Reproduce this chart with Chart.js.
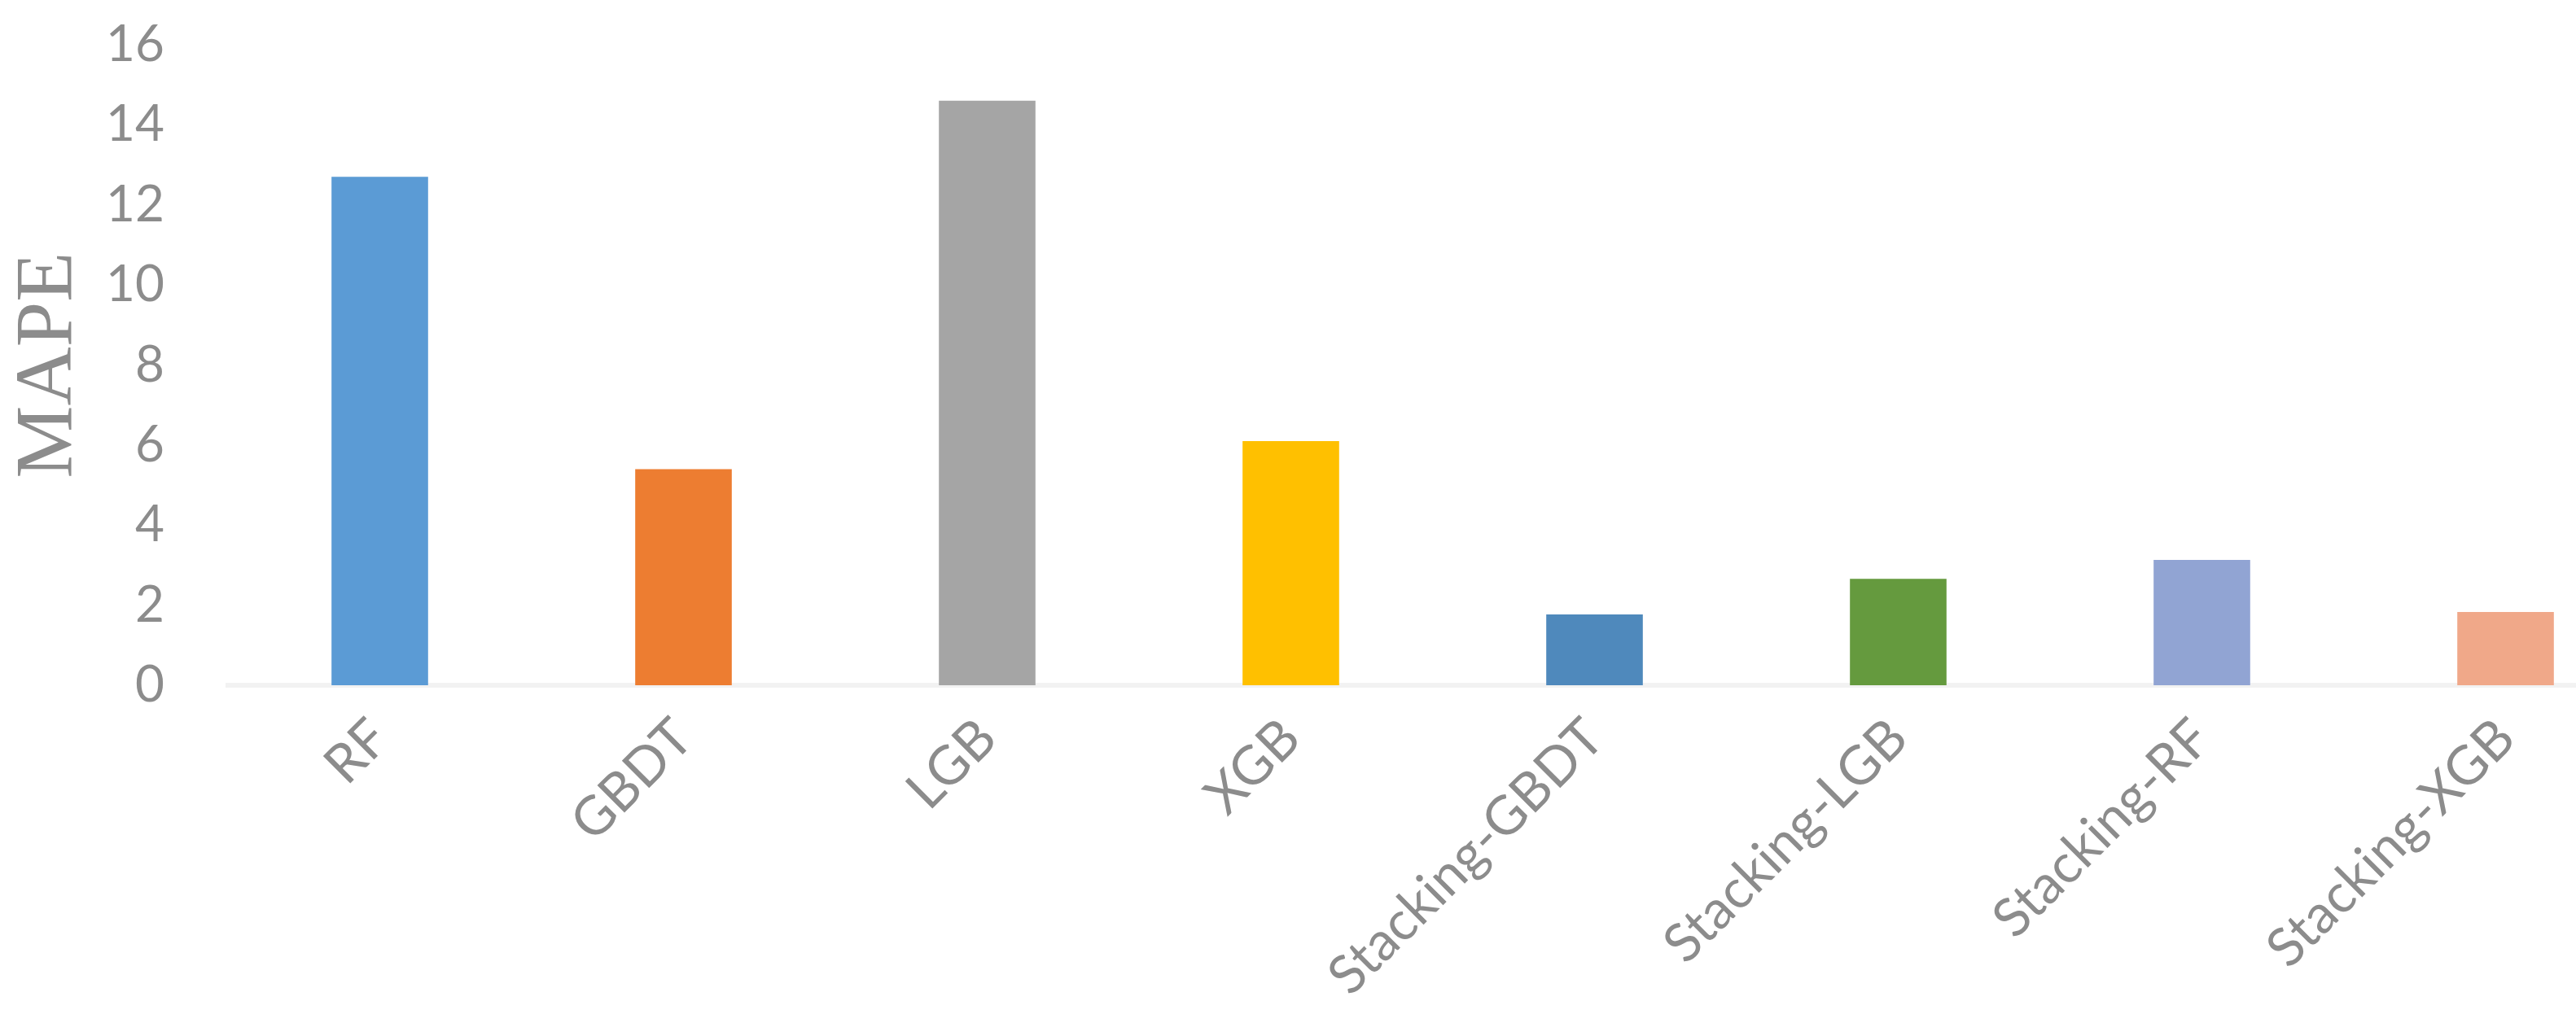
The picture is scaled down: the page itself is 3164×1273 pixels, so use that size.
<!DOCTYPE html>
<html>
<head>
<meta charset="utf-8">
<script src="https://cdn.jsdelivr.net/npm/chart.js@4.4.1/dist/chart.umd.min.js"></script>
<style>
  html, body { margin: 0; padding: 0; background: #fff; overflow: hidden; }
  #wrap { position: absolute; left: 0; top: 0; width: 3264px; height: 1273px; }
</style>
</head>
<body>
<div id="wrap"><canvas id="chart"></canvas></div>
<script>
const models = ['RF', 'GBDT', 'LGB', 'XGB', 'Stacking-GBDT', 'Stacking-LGB', 'Stacking-RF', 'Stacking-XGB'];
const mape = [12.7, 5.4, 14.6, 6.1, 1.77, 2.66, 3.13, 1.83];
const barColors = ['#5B9BD5', '#ED7D31', '#A5A5A5', '#FFC000', '#4F89BC', '#659A3E', '#91A4D3', '#F0A889'];
const yTicks = [0, 2, 4, 6, 8, 10, 12, 14, 16];

const tickColor = '#8C8C8C';

new Chart(document.getElementById('chart').getContext('2d'), {
    type: 'bar',
    data: {
        labels: models,
        datasets: [{
            label: 'MAPE',
            data: mape,
            backgroundColor: barColors,
            borderWidth: 0,
            categoryPercentage: 1,
            barPercentage: 0.318
        }]
    },
    options: {
        responsive: true,
        maintainAspectRatio: false,
        animation: false,
        layout: { padding: { top: 55, left: 0, right: 0, bottom: 0 } },
        plugins: {
            legend: { display: false },
            tooltip: { enabled: false }
        },
        scales: {
            x: {
                grid: { display: false, drawTicks: false },
                border: { display: true, color: '#F2F2F2', width: 6 },
                ticks: {
                    color: tickColor,
                    font: { family: 'Lato', size: 66 },
                    minRotation: 45,
                    maxRotation: 45,
                    padding: 26
                },
                afterFit: scale => {
                    scale.height = 1273 - 842;
                    scale.paddingLeft = 0;
                    scale.paddingRight = 0;
                }
            },
            y: {
                min: 0,
                max: 16,
                grid: { display: false, drawTicks: false },
                border: { display: false },
                afterBuildTicks: scale => { scale.ticks = yTicks.map(v => ({ value: v })); },
                ticks: {
                    color: tickColor,
                    font: { family: 'Lato', size: 62 },
                    padding: 78
                },
                title: {
                    display: true,
                    text: 'MAPE',
                    color: tickColor,
                    font: { family: 'Liberation Serif', size: 100, lineHeight: 1.1 },
                    padding: { top: 6, bottom: 0 }
                },
                afterFit: scale => {
                    scale.width = 280;
                    scale.paddingTop = 0;
                    scale.paddingBottom = 0;
                }
            }
        }
    }
});
</script>
</body>
</html>
